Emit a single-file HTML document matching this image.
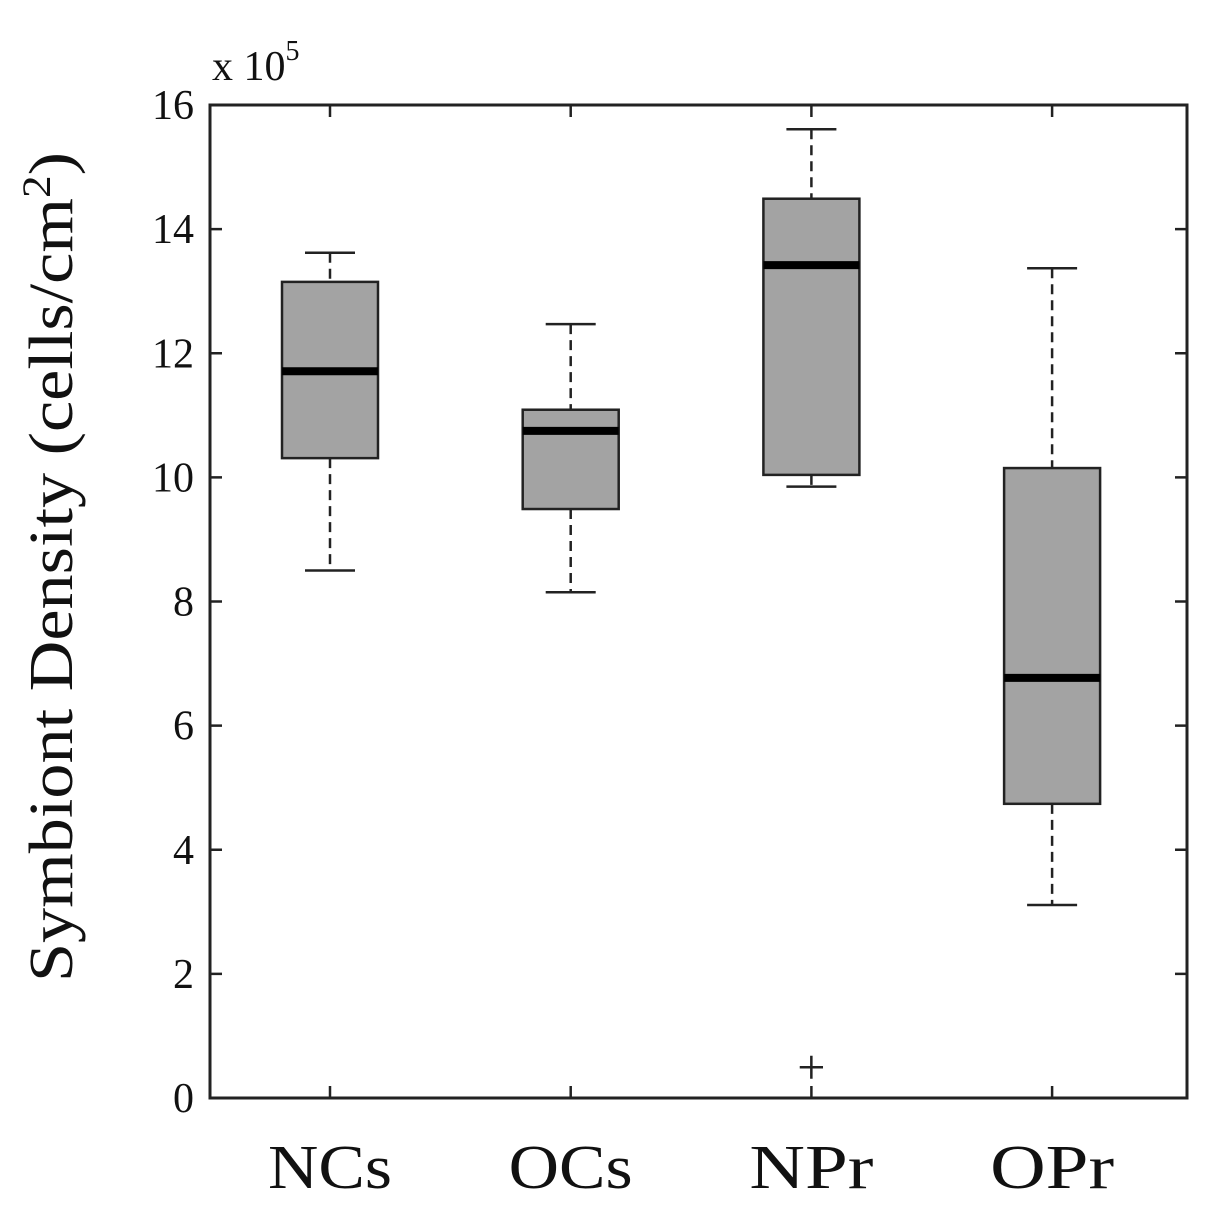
<!DOCTYPE html>
<html><head><meta charset="utf-8"><style>
body{margin:0;background:#fff}
svg{display:block;font-family:"Liberation Serif",serif}
</style></head><body>
<svg id="chart" width="1208" height="1205" viewBox="0 0 1208 1205">
<g id="g"></g>
</svg>
<script>
const categories=["NCs","OCs","NPr","OPr"];
const whiskerLow=[8.5,8.15,9.85,3.11];
const q1=[10.31,9.49,10.04,4.74];
const medians=[11.71,10.75,13.42,6.77];
const q3=[13.15,11.09,14.49,10.15];
const whiskerHigh=[13.62,12.47,15.61,13.37];
const outliers=[[],[],[0.48],[]];
const yTicks=[0,2,4,6,8,10,12,14,16];

const L=210,R=1187,T=105,B=1098;
const y=v=>B-(v/16)*(B-T);
const x=i=>330+i*240.7;
const NS="http://www.w3.org/2000/svg";
const g=document.getElementById('g');
function mk(tag,attrs,name,parent){const e=document.createElementNS(NS,tag);for(const k in attrs)e.setAttribute(k,attrs[k]);


(parent||g).appendChild(e);return e;}
const st='#222';
categories.forEach((c,i)=>{
 const cx=x(i),hw=48,cw=25;
 mk('line',{x1:cx,x2:cx,y1:y(whiskerHigh[i]),y2:y(q3[i]),stroke:st,'stroke-width':2.5,'stroke-dasharray':'10,6'},'whisker-upper-'+c);
 mk('line',{x1:cx,x2:cx,y1:y(q1[i]),y2:y(whiskerLow[i]),stroke:st,'stroke-width':2.5,'stroke-dasharray':'10,6'},'whisker-lower-'+c);
 mk('line',{x1:cx-cw,x2:cx+cw,y1:y(whiskerHigh[i]),y2:y(whiskerHigh[i]),stroke:st,'stroke-width':2.5},'cap-upper-'+c);
 mk('line',{x1:cx-cw,x2:cx+cw,y1:y(whiskerLow[i]),y2:y(whiskerLow[i]),stroke:st,'stroke-width':2.5},'cap-lower-'+c);
 mk('rect',{x:cx-hw,y:y(q3[i]),width:2*hw,height:y(q1[i])-y(q3[i]),fill:'#a3a3a3',stroke:st,'stroke-width':2.5},'box-'+c);
 mk('line',{x1:cx-hw,x2:cx+hw,y1:y(medians[i]),y2:y(medians[i]),stroke:'#000','stroke-width':8},'median-'+c);
 outliers[i].forEach(v=>{
  mk('text',{x:cx,y:y(v)+16,'text-anchor':'middle','font-size':50,fill:st},'outlier-'+c).textContent='+';
 });
 mk('text',{x:cx,y:1188,'text-anchor':'middle','font-size':62,fill:'#111',textLength:124,lengthAdjust:'spacingAndGlyphs'},'x-tick-label-'+c).textContent=c;
 mk('line',{x1:cx,x2:cx,y1:B,y2:B-12,stroke:st,'stroke-width':2.5},'x-tick-bottom');
 mk('line',{x1:cx,x2:cx,y1:T,y2:T+12,stroke:st,'stroke-width':2.5},'x-tick-top');
});
yTicks.forEach(t=>{
 mk('line',{x1:L,x2:L+12,y1:y(t),y2:y(t),stroke:st,'stroke-width':2.5},'y-tick');
 mk('line',{x1:R,x2:R-12,y1:y(t),y2:y(t),stroke:st,'stroke-width':2.5},'y-tick-right');
 mk('text',{x:194,y:y(t)+14,'text-anchor':'end','font-size':42,fill:'#111'},'y-tick-label').textContent=t;
});
mk('rect',{x:L,y:T,width:R-L,height:B-T,fill:'none',stroke:st,'stroke-width':3},'plot-frame');
const ex=mk('text',{x:212,y:80,'font-size':42,fill:'#111'},'y-exponent-label');
ex.innerHTML='x 10<tspan dy="-20" font-size="28">5</tspan>';
const yl=mk('text',{x:0,y:0,transform:'translate(72,567) rotate(-90)','text-anchor':'middle','font-size':62,fill:'#111',textLength:830,lengthAdjust:'spacingAndGlyphs'},'y-axis-title');
yl.innerHTML='Symbiont Density (cells/cm<tspan dy="-22" font-size="40">2</tspan><tspan dy="22">)</tspan>';
</script>
</body></html>
